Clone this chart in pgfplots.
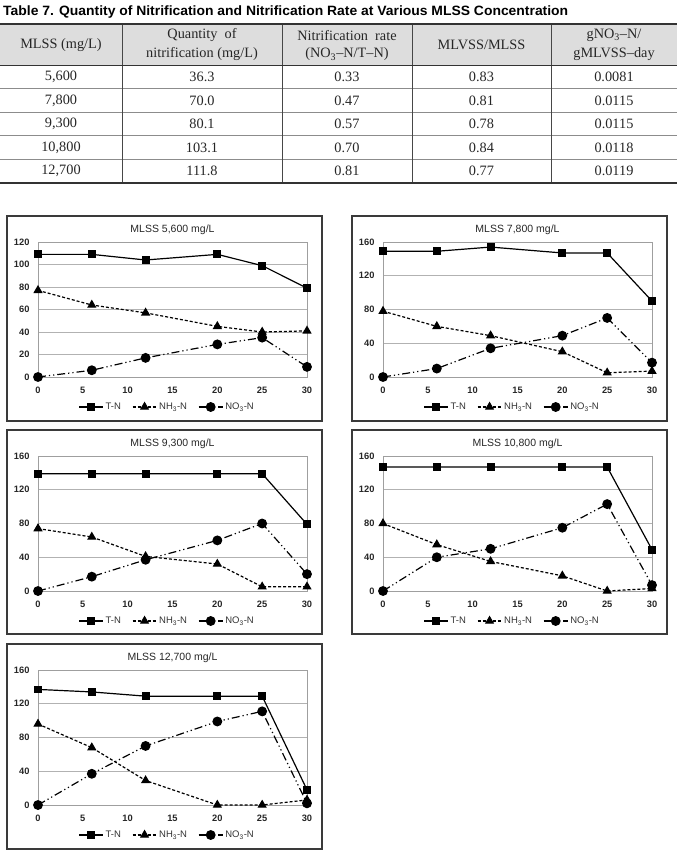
\documentclass[border=0pt]{standalone}
\usepackage{fontspec}
\setmainfont{Liberation Serif}
\setsansfont{Liberation Sans}
\usepackage{pgfplots}
\pgfplotsset{compat=1.18}
\definecolor{hdr}{HTML}{DDDDDD}
\definecolor{frm}{HTML}{3A3A3A}
\definecolor{tline}{HTML}{333333}
\definecolor{rline}{HTML}{8C8C8C}
\definecolor{txt}{HTML}{262626}
\pgfplotsset{
  mychart/.style={
    scale only axis, width=269pt, height=135pt,
    anchor=south west,
    xmin=0, xmax=30, ymin=0,
    xtick={0,5,...,30},
    /pgf/number format/assume math mode=true,
    axis line style={draw=gray!75, line width=0.6pt},
    ymajorgrids, grid style={draw=gray!60, line width=0.6pt},
    major tick length=0pt,
    tick label style={font=\sffamily\bfseries\fontsize{9.3}{10}\selectfont, text=black!85},
    xticklabel style={anchor=center, yshift=-13pt, text height=6.7pt, text depth=0pt, inner sep=0pt},
    yticklabel style={xshift=-5pt},
    title style={at={(0.5,1)}, anchor=center, yshift=6pt, font=\sffamily\fontsize{10.5}{12}\selectfont, text=black!85},
    legend style={at={(0.48,0)}, anchor=center, yshift=-30pt, draw=none, fill=none,
      legend columns=3, font=\sffamily\fontsize{9.5}{11}\selectfont, text=black!80,
      /tikz/every even column/.append style={column sep=9pt}},
    legend image code/.code={\draw[mark repeat=2,mark phase=2,##1] plot coordinates {(0pt,0pt)(12pt,0pt)(24pt,0pt)};},
    clip=false,
  },
  tn/.style={black, line width=1.2pt, solid, mark=square*, mark size=3.3pt, mark options={solid}},
  nh/.style={black, line width=1.2pt, dash pattern=on 3pt off 2pt, mark=triangle*, mark size=4.2pt, mark options={solid}},
  no/.style={black, line width=1.2pt, dash pattern=on 8pt off 3pt on 1.2pt off 3pt on 1.2pt off 3pt, mark=*, mark size=4.3pt, mark options={solid}},
}
\newcommand{\tf}{\fontsize{14.3}{16}\selectfont}
\begin{document}
\begin{tikzpicture}
\path[use as bounding box] (0pt,0pt) rectangle (677pt,-850pt);
% ---------- table title ----------
\node[anchor=west, inner sep=0pt, font=\sffamily\bfseries\fontsize{13.5}{16}\selectfont, text=black] at (3pt,-12pt)
  {\scalebox{1.03}[1]{Table 7. Quantity of Nitrification and Nitrification Rate at Various MLSS Concentration}};
% ---------- table ----------
\fill[hdr] (0pt,-24pt) rectangle (677pt,-65pt);
\foreach \yy in {88.6,112.2,135.8,159.4} {\draw[rline, line width=0.7pt] (0pt,-\yy pt) -- (677pt,-\yy pt);}
\foreach \xx in {122,282,412,551} {\draw[tline!90, line width=0.8pt] (\xx pt,-24pt) -- (\xx pt,-183pt);}
\draw[tline, line width=0.9pt] (0pt,-65pt) -- (677pt,-65pt);
\draw[tline, line width=2pt] (0pt,-24pt) -- (677pt,-24pt);
\draw[tline, line width=1.8pt] (0pt,-183pt) -- (677pt,-183pt);
\begin{scope}[every node/.style={inner sep=0pt, font=\tf, text=txt, anchor=center}]
\node at (61pt,-45pt) {MLSS (mg/L)};
\node at (202pt,-35.5pt) {Quantity~~of};
\node at (202pt,-54.5pt) {nitrification (mg/L)};
\node at (347pt,-35.5pt) {Nitrification~~rate};
\node at (347pt,-54.5pt) {(NO\textsubscript{3}–N/T–N)};
\node at (481.5pt,-45pt) {MLVSS/MLSS};
\node at (614pt,-35.5pt) {gNO\textsubscript{3}–N/};
\node at (614pt,-54.5pt) {gMLVSS–day};
% rows
\node at (61pt,-76.8pt) {5,600};   \node at (202pt,-76.8pt) {36.3};  \node at (347pt,-76.8pt) {0.33}; \node at (481.5pt,-76.8pt) {0.83}; \node at (614pt,-76.8pt) {0.0081};
\node at (61pt,-100.4pt) {7,800};  \node at (202pt,-100.4pt) {70.0}; \node at (347pt,-100.4pt) {0.47}; \node at (481.5pt,-100.4pt) {0.81}; \node at (614pt,-100.4pt) {0.0115};
\node at (61pt,-124pt) {9,300};    \node at (202pt,-124pt) {80.1};   \node at (347pt,-124pt) {0.57}; \node at (481.5pt,-124pt) {0.78}; \node at (614pt,-124pt) {0.0115};
\node at (61pt,-147.6pt) {10,800}; \node at (202pt,-147.6pt) {103.1}; \node at (347pt,-147.6pt) {0.70}; \node at (481.5pt,-147.6pt) {0.84}; \node at (614pt,-147.6pt) {0.0118};
\node at (61pt,-171.2pt) {12,700}; \node at (202pt,-171.2pt) {111.8}; \node at (347pt,-171.2pt) {0.81}; \node at (481.5pt,-171.2pt) {0.77}; \node at (614pt,-171.2pt) {0.0119};
\end{scope}
% ---------- chart boxes ----------
\draw[frm, line width=1.5pt] (7pt,-216pt) rectangle (322pt,-421pt);
\draw[frm, line width=1.5pt] (352pt,-216pt) rectangle (667pt,-421pt);
\draw[frm, line width=1.5pt] (7pt,-430pt) rectangle (322pt,-634pt);
\draw[frm, line width=1.5pt] (352pt,-430pt) rectangle (667pt,-634pt);
\draw[frm, line width=1.5pt] (7pt,-644pt) rectangle (322pt,-849pt);
% ---------- chart 1 ----------
\begin{axis}[mychart, at={(38pt,-377pt)}, ymax=120, ytick={0,20,...,120}, title={MLSS 5,600 mg/L}]
\addplot[tn] coordinates {(0,109) (6,109) (12,104) (20,109) (25,99) (30,79)};
\addplot[nh] coordinates {(0,77) (6,64) (12,57) (20,45) (25,40) (30,41)};
\addplot[no] coordinates {(0,0) (6,6) (12,17) (20,29) (25,35) (30,9)};
\legend{T-N, NH\textsubscript{3}-N, NO\textsubscript{3}-N}
\end{axis}
% ---------- chart 2 ----------
\begin{axis}[mychart, at={(383pt,-377pt)}, ymax=160, ytick={0,40,...,160}, title={MLSS 7,800 mg/L}]
\addplot[tn] coordinates {(0,149) (6,149) (12,154) (20,147) (25,147) (30,90)};
\addplot[nh] coordinates {(0,78) (6,60) (12,49) (20,30) (25,5) (30,7)};
\addplot[no] coordinates {(0,0) (6,10) (12,34) (20,49) (25,70) (30,17)};
\legend{T-N, NH\textsubscript{3}-N, NO\textsubscript{3}-N}
\end{axis}
% ---------- chart 3 ----------
\begin{axis}[mychart, at={(38pt,-591pt)}, ymax=160, ytick={0,40,...,160}, title={MLSS 9,300 mg/L}]
\addplot[tn] coordinates {(0,139) (6,139) (12,139) (20,139) (25,139) (30,79)};
\addplot[nh] coordinates {(0,74) (6,64) (12,41) (20,32) (25,5) (30,5)};
\addplot[no] coordinates {(0,0) (6,17) (12,37) (20,60) (25,80) (30,20)};
\legend{T-N, NH\textsubscript{3}-N, NO\textsubscript{3}-N}
\end{axis}
% ---------- chart 4 ----------
\begin{axis}[mychart, at={(383pt,-591pt)}, ymax=160, ytick={0,40,...,160}, title={MLSS 10,800 mg/L}]
\addplot[tn] coordinates {(0,147) (6,147) (12,147) (20,147) (25,147) (30,49)};
\addplot[nh] coordinates {(0,80) (6,55) (12,35) (20,18) (25,0) (30,3)};
\addplot[no] coordinates {(0,0) (6,40) (12,50) (20,75) (25,103) (30,7)};
\legend{T-N, NH\textsubscript{3}-N, NO\textsubscript{3}-N}
\end{axis}
% ---------- chart 5 ----------
\begin{axis}[mychart, at={(38pt,-805pt)}, ymax=160, ytick={0,40,...,160}, title={MLSS 12,700 mg/L}]
\addplot[tn] coordinates {(0,137) (6,134) (12,129) (20,129) (25,129) (30,18)};
\addplot[nh] coordinates {(0,96) (6,68) (12,29) (20,0) (25,0) (30,6)};
\addplot[no] coordinates {(0,0) (6,37) (12,70) (20,99) (25,111) (30,2)};
\legend{T-N, NH\textsubscript{3}-N, NO\textsubscript{3}-N}
\end{axis}
\end{tikzpicture}
\end{document}
